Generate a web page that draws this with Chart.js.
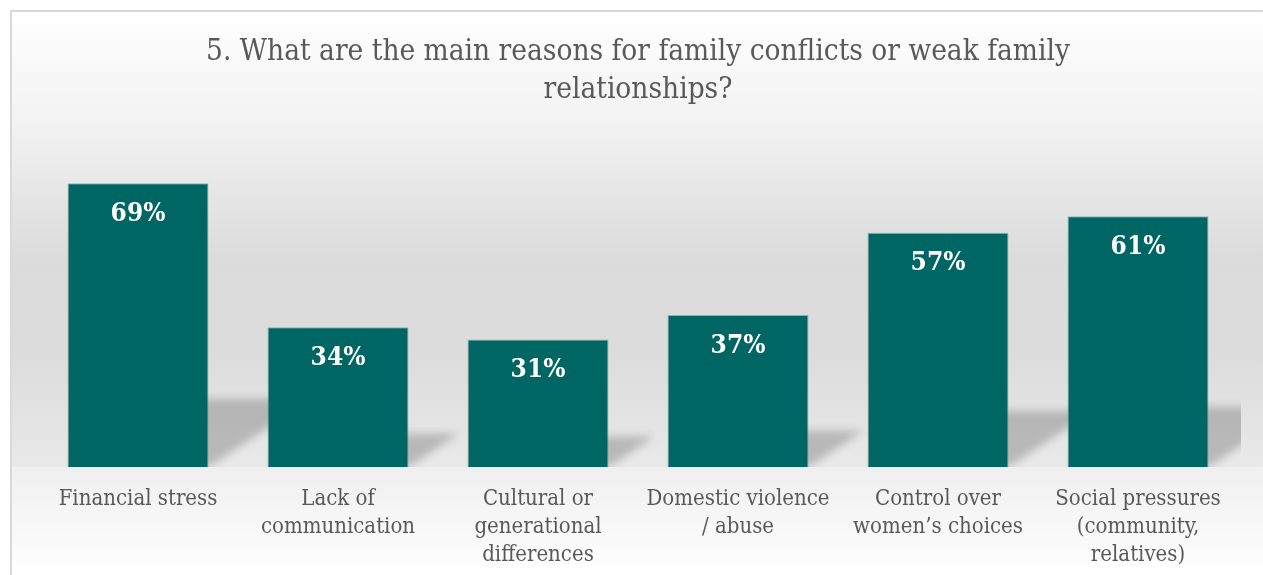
<!DOCTYPE html>
<html>
<head>
<meta charset="utf-8">
<script src="https://cdn.jsdelivr.net/npm/chart.js@4"></script>
<style>
  html, body { margin: 0; padding: 0; background: #ffffff; }
  #wrap { width: 1263px; height: 575px; position: relative; }
</style>
</head>
<body>
<div id="wrap"><canvas id="reasonsChart"></canvas></div>
<script>
// 設問5の回答データ
const categories = [
  ['Financial stress'],
  ['Lack of', 'communication'],
  ['Cultural or', 'generational', 'differences'],
  ['Domestic violence', '/ abuse'],
  ['Control over', 'women\u2019s choices'],
  ['Social pressures', '(community,', 'relatives)']
];
const percentValues = [69, 34, 31, 37, 57, 61];
const chartTitle = ['5. What are the main reasons for family conflicts or weak family', 'relationships?'];

const SERIF = "'DejaVu Serif Condensed', 'DejaVu Serif', serif";
const TEXT_GREY = '#595959';
const BAR_TEAL = '#006664';

// 背景（壁と床のグラデーション）と枠線
const backdropPlugin = {
  id: 'backdrop',
  beforeDraw(chart) {
    const { ctx, width, height, chartArea } = chart;
    const base = chartArea.bottom;
    ctx.save();
    const wall = ctx.createLinearGradient(0, 10, 0, base);
    wall.addColorStop(0, '#ffffff');
    wall.addColorStop(0.25, '#f2f2f2');
    wall.addColorStop(0.55, '#dbdbdb');
    wall.addColorStop(0.75, '#dcdcdc');
    wall.addColorStop(1, '#e9e9e9');
    ctx.fillStyle = wall;
    ctx.fillRect(11, 11, width - 11, base - 11);
    const floor = ctx.createLinearGradient(0, base, 0, height);
    floor.addColorStop(0, '#efefef');
    floor.addColorStop(1, '#ffffff');
    ctx.fillStyle = floor;
    ctx.fillRect(11, base, width - 11, height - base);
    ctx.strokeStyle = '#d9d9d9';
    ctx.lineWidth = 2;
    ctx.beginPath();
    ctx.moveTo(11, height);
    ctx.lineTo(11, 11);
    ctx.lineTo(width, 11);
    ctx.stroke();
    ctx.restore();
  }
};

// 棒の右側に落ちる斜めの影
const barShadowPlugin = {
  id: 'barShadow',
  beforeDatasetsDraw(chart) {
    const { ctx, chartArea } = chart;
    const meta = chart.getDatasetMeta(0);
    ctx.save();
    ctx.beginPath();
    ctx.rect(chartArea.left, chartArea.top, chartArea.right - chartArea.left + 3, chartArea.bottom - chartArea.top);
    ctx.clip();
    ctx.filter = 'blur(4px)';
    ctx.fillStyle = 'rgba(0, 0, 0, 0.2)';
    meta.data.forEach((bar) => {
      const left = bar.x - bar.width / 2;
      const right = bar.x + bar.width / 2;
      const h = (bar.base - bar.y) * 0.24;
      const shift = h * 1.5;
      ctx.beginPath();
      ctx.moveTo(left, bar.base);
      ctx.lineTo(right, bar.base);
      ctx.lineTo(right + shift, bar.base - h);
      ctx.lineTo(left + shift, bar.base - h);
      ctx.closePath();
      ctx.fill();
    });
    ctx.restore();
  }
};

// 棒の内側上端に値ラベル
const valueLabelPlugin = {
  id: 'valueLabels',
  afterDatasetsDraw(chart) {
    const { ctx } = chart;
    const meta = chart.getDatasetMeta(0);
    ctx.save();
    ctx.fillStyle = '#ffffff';
    ctx.font = 'bold 26px ' + SERIF;
    ctx.textAlign = 'center';
    ctx.textBaseline = 'middle';
    meta.data.forEach((bar, i) => {
      ctx.fillText(percentValues[i] + '%', bar.x, bar.y + 31);
    });
    ctx.restore();
  }
};

const ctx = document.getElementById('reasonsChart');
new Chart(ctx, {
  type: 'bar',
  data: {
    labels: categories,
    datasets: [{
      data: percentValues,
      backgroundColor: BAR_TEAL,
      borderColor: 'rgba(80, 150, 150, 0.6)',
      borderWidth: 1,
      categoryPercentage: 0.705,
      barPercentage: 1
    }]
  },
  options: {
    responsive: true,
    maintainAspectRatio: false,
    animation: false,
    layout: {
      padding: { left: 38, right: 25, top: 0, bottom: -12 }
    },
    plugins: {
      legend: { display: false },
      tooltip: { enabled: false },
      title: {
        display: true,
        text: chartTitle,
        color: TEXT_GREY,
        font: { family: SERIF, size: 29.5, weight: 'normal', lineHeight: 1.288 },
        padding: { top: 33, bottom: 29 }
      }
    },
    scales: {
      x: {
        grid: { display: false, drawTicks: false },
        border: { display: false },
        ticks: {
          color: TEXT_GREY,
          font: { family: SERIF, size: 22, lineHeight: 1.27 },
          padding: 18,
          maxRotation: 0,
          autoSkip: false
        }
      },
      y: {
        display: false,
        min: 0,
        max: 80
      }
    }
  },
  plugins: [backdropPlugin, barShadowPlugin, valueLabelPlugin]
});
</script>
</body>
</html>
